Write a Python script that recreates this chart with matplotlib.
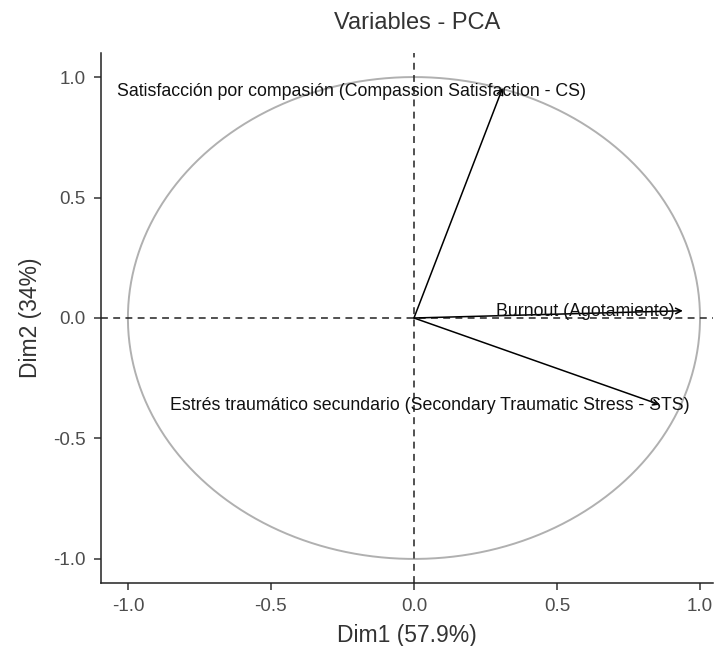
import numpy as np
import matplotlib
matplotlib.use("Agg")
import matplotlib.pyplot as plt

plt.rcParams['font.family'] = ['Liberation Sans', 'DejaVu Sans']

variables = ["Satisfacción por compasión (Compassion Satisfaction - CS)",
             "Burnout (Agotamiento)",
             "Estrés traumático secundario (Secondary Traumatic Stress - STS)"]
dim1 = [0.31, 0.94, 0.86]
dim2 = [0.955, 0.03, -0.36]
label_x = [-0.217, 0.60, 0.056]
label_y = [0.94, 0.025, -0.365]
ticks = [-1.0, -0.5, 0.0, 0.5, 1.0]
tick_labels = ["-1.0", "-0.5", "0.0", "0.5", "1.0"]

fig = plt.figure(figsize=(7.19, 6.46), dpi=100)
ax = fig.add_axes([0.1405, 0.0975, 0.851, 0.8205])

t = np.linspace(0, 2*np.pi, 400)
ax.plot(np.cos(t), np.sin(t), color='#b0b0b0', lw=1.4)
ax.axhline(0, color='#222222', ls=(0, (4.5, 3.5)), lw=1.1)
ax.axvline(0, color='#222222', ls=(0, (4.5, 3.5)), lw=1.1)

for x, y in zip(dim1, dim2):
    ax.annotate('', xy=(x, y), xytext=(0, 0),
                arrowprops=dict(arrowstyle='->', color='black', lw=1.1,
                                shrinkA=0, shrinkB=0, mutation_scale=10))
for name, lx, ly in zip(variables, label_x, label_y):
    ax.text(lx, ly, name, ha='center', va='center', fontsize=12.8, color='#111111')

ax.set_xlim(-1.094, 1.045)
ax.set_ylim(-1.1, 1.1)
ax.set_xticks(ticks)
ax.set_xticklabels(tick_labels)
ax.set_yticks(ticks)
ax.set_yticklabels(tick_labels)
ax.tick_params(direction='out', length=5, width=1.1, pad=6, labelsize=13.5,
               colors='#4d4d4d')
ax.tick_params(axis='both', color='#333333')
for s in ['top', 'right']:
    ax.spines[s].set_visible(False)
for s in ['left', 'bottom']:
    ax.spines[s].set_linewidth(1.1)
    ax.spines[s].set_color('#222222')

ax.set_xlabel('Dim1 (57.9%)', fontsize=16.5, color='#333333', labelpad=6)
ax.set_ylabel('Dim2 (34%)', fontsize=16.5, color='#333333', labelpad=8)
fig.text(0.58, 0.965, 'Variables - PCA', ha='center', va='center', fontsize=17, color='#333333')

fig.savefig('out.png', dpi=100)
